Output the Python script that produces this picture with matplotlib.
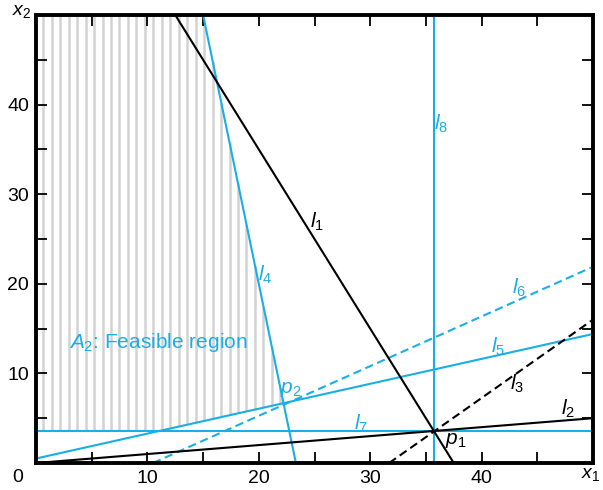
import numpy as np
import matplotlib.pyplot as plt

plt.rcParams['font.family'] = ['Liberation Sans', 'DejaVu Sans']
plt.rcParams['mathtext.fontset'] = 'custom'
plt.rcParams['mathtext.rm'] = 'Liberation Sans'
plt.rcParams['mathtext.it'] = 'Liberation Sans:italic'

BLUE = '#19aee6'

# line end points (x1, x2)
l1_x = [12.5, 37.5]
l1_y = [50.0, 0.0]
l2_x = [0.0, 50.0]
l2_y = [0.0, 5.0]
l3_x = [31.7, 50.0]
l3_y = [0.0, 16.0]
l4_x = [15.0, 23.33]
l4_y = [50.0, 0.0]
l5_x = [0.0, 50.0]
l5_y = [0.5, 14.4]
l6_x = [10.5, 50.0]
l6_y = [0.0, 21.9]
l7_y = 3.57
l8_x = 35.71

ticks = [0, 5, 10, 15, 20, 25, 30, 35, 40, 45, 50]
tick_labels = ['', '', '10', '', '20', '', '30', '', '40', '', '']

# (text, x1, x2, colour)
labels = [
    (r'$\mathit{l}_1$', 25.2, 26.9, 'black'),
    (r'$\mathit{l}_2$', 47.8, 6.0, 'black'),
    (r'$\mathit{l}_3$', 43.2, 8.8, 'black'),
    (r'$\mathit{l}_4$', 20.6, 21.0, BLUE),
    (r'$\mathit{l}_5$', 41.5, 13.0, BLUE),
    (r'$\mathit{l}_6$', 43.4, 19.6, BLUE),
    (r'$\mathit{l}_7$', 29.2, 4.4, BLUE),
    (r'$\mathit{l}_8$', 36.4, 37.9, BLUE),
    (r'$\mathit{p}_1$', 37.7, 2.5, 'black'),
    (r'$\mathit{p}_2$', 22.9, 8.2, BLUE),
]

fig = plt.figure(figsize=(6.03, 4.90), dpi=100)
ax = fig.add_axes([36/603, 27/490, 557/603, 448/490])

# hatch of the feasible region
hx = np.arange(0.65, 23.4, 0.76)
lower = np.maximum(l7_y, np.interp(hx, l5_x, l5_y))
upper = np.minimum(50, np.interp(hx, l4_x, l4_y))
ok = upper > lower
ax.vlines(hx[ok], lower[ok], upper[ok], color='#d2d2d2', lw=1.8, zorder=1)

lw = 1.5
dash = (0, (4.0, 2.2))
ax.plot(l1_x, l1_y, color='black', lw=lw, zorder=3)
ax.plot(l2_x, l2_y, color='black', lw=lw, zorder=3)
ax.plot(l3_x, l3_y, color='black', lw=lw, ls=dash, zorder=3)
ax.plot(l4_x, l4_y, color=BLUE, lw=lw, zorder=2)
ax.plot(l5_x, l5_y, color=BLUE, lw=lw, zorder=2)
ax.plot(l6_x, l6_y, color=BLUE, lw=lw, ls=dash, zorder=2)
ax.axhline(l7_y, color=BLUE, lw=lw, zorder=2)
ax.axvline(l8_x, color=BLUE, lw=lw, zorder=2)

for txt, x, y, c in labels:
    ax.text(x, y, txt, color=c, fontsize=15, ha='center', va='center')

ax.text(3.0, 13.4, r'$\mathit{A}_2$: Feasible region', color=BLUE,
        fontsize=15, ha='left', va='center')

ax.set_xlim(0, 50)
ax.set_ylim(0, 50)
ax.set_xticks(ticks)
ax.set_xticklabels(tick_labels)
ax.set_yticks(ticks)
ax.set_yticklabels(tick_labels)
ax.tick_params(direction='in', length=8, width=1.3, top=True, right=True,
               labelsize=14, pad=5)
for s in ax.spines.values():
    s.set_linewidth(2.8)

fig.text(18/603, 1 - 477/490, '0', fontsize=14, ha='center', va='center')
fig.text(591/603, 1 - 474/490, r'$\mathit{x}_1$', fontsize=14, ha='center', va='center')
fig.text(22/603, 1 - 11/490, r'$\mathit{x}_2$', fontsize=14, ha='center', va='center')

fig.savefig('out.png', dpi=100)
